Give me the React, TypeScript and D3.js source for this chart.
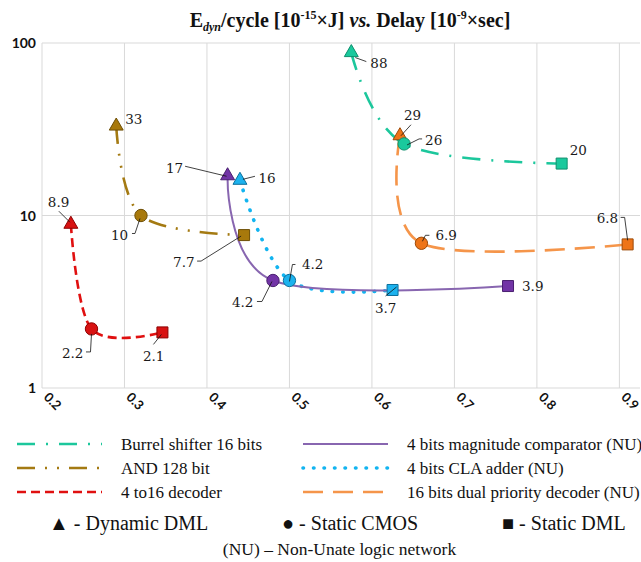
import React from "react";
import * as d3 from "d3";

const width = 641;
const height = 562;

// axes
const xTicks = [0.2, 0.3, 0.4, 0.5, 0.6, 0.7, 0.8, 0.9];
const yTicks = [1, 10, 100];

// series data: delay [ns] and energy/cycle [fJ], points = Dynamic DML, Static CMOS, Static DML
const burrelDelay = [0.575, 0.639, 0.83];
const burrelEnergy = [88, 26, 20];
const andDelay = [0.29, 0.32, 0.445];
const andEnergy = [33, 10, 7.7];
const decoderDelay = [0.235, 0.26, 0.346];
const decoderEnergy = [8.9, 2.2, 2.1];
const comparatorDelay = [0.425, 0.48, 0.765];
const comparatorEnergy = [17, 4.2, 3.9];
const claDelay = [0.44, 0.5, 0.625];
const claEnergy = [16, 4.2, 3.7];
const priorityDelay = [0.634, 0.66, 0.91];
const priorityEnergy = [29, 6.9, 6.8];

const seriesNames = [
  "Burrel shifter 16 bits",
  "AND 128 bit",
  "4 to16 decoder",
  "4 bits magnitude comparator (NU)",
  "4 bits CLA adder (NU)",
  "16 bits dual priority decoder (NU)",
];

const markerNames = ["Dynamic DML", "Static CMOS", "Static DML"];

// styles per series
const styles = [
  { line: "#1cc79c", fill: "#1ac99d", edge: "#0f8f6d", dash: "18 11 2 11", w: 2.6, cap: "butt" },
  { line: "#a47a12", fill: "#a8790c", edge: "#6e4f05", dash: "18 10 2 10 2 10", w: 2.6, cap: "butt" },
  { line: "#e01010", fill: "#d81212", edge: "#8c0000", dash: "9 5", w: 2.6, cap: "butt" },
  { line: "#8866b0", fill: "#7234a6", edge: "#4a1f70", dash: null, w: 2, cap: "butt" },
  { line: "#12b4f0", fill: "#1cb2ee", edge: "#0c6f9c", dash: "0.5 10", w: 3.6, cap: "round" },
  { line: "#f5954a", fill: "#ee7418", edge: "#9c4a08", dash: "20 10", w: 2.6, cap: "butt" },
];

// data label offsets [dx, dy, leader polyline] relative to the marker
const labelLayout = [
  [[19, 15, [[4, 5], [15, 9]]], [21, 1, [[3, 1], [15, -5], [18, -5]]], [8, -9, null]],
  [[9, -2, null], [-30, 24.5, [[-9, 18], [-6, 18], [-1, 3]]], [-71, 31.5, [[-47, 26], [-43, 26], [-3, 1]]]],
  [[-23, -17.5, [[-12, -13], [-1, -2]]], [-29.5, 29, [[-5.5, 23], [-1, 23], [0, 5]]], [-19.5, 28.6, [[-9, 12], [-1, 2]]]],
  [[-61.6, -3, [[-42.5, -9.5], [-1, 0.5]]], [-41, 27, [[-16, 21], [-11, 21], [-1, 1]]], [14, 5, null]],
  [[18.5, 3, [[3, -1], [15, -4]]], [12.5, -11.5, [[0, 1], [3, -16], [6, -16]]], [-17.6, 23.5, [[-7, 6], [4, -3]]]],
  [[4, -16, [[1, 0], [11, -11]]], [14, -3, [[1, -2], [4, -8], [8, -8]]], [-31, -21, [[-7, -27], [-3, -27], [0, -4]]]],
];

const series = [
  { delay: burrelDelay, energy: burrelEnergy },
  { delay: andDelay, energy: andEnergy },
  { delay: decoderDelay, energy: decoderEnergy },
  { delay: comparatorDelay, energy: comparatorEnergy },
  { delay: claDelay, energy: claEnergy },
  { delay: priorityDelay, energy: priorityEnergy },
];

const x = d3.scaleLinear().domain([0.2, 0.925]).range([42, 640]);
const y = d3.scaleLog().domain([1, 100]).range([388, 43]);

const line = d3.line().curve(d3.curveCardinal.tension(0));

const shapes = [d3.symbolTriangle, d3.symbolCircle, d3.symbolSquare];
const shapeSizes = [84, 120, 121];

// draw order: orange under teal
const drawOrder = [5, 2, 1, 4, 3, 0];

export default function App() {
  const pts = series.map(s => s.delay.map((d, i) => [x(d), y(s.energy[i])]));
  const plotRight = x.range()[1];

  return (
    <svg width={width} height={height} style={{ position: "absolute", left: 0, top: 0, background: "#fff" }}>
      {/* title */}
      <text x={350} y={27} textAnchor="middle" fontFamily="Liberation Serif" fontWeight="bold" fontSize={20} fill="#111">
        E<tspan fontStyle="italic" fontSize={12} dy={4}>dyn</tspan>
        <tspan dy={-4}>/cycle [10</tspan>
        <tspan fontSize={12} dy={-8}>-15</tspan>
        <tspan dy={8}>×J] </tspan>
        <tspan fontStyle="italic">vs.</tspan>
        <tspan> Delay [10</tspan>
        <tspan fontSize={12} dy={-8}>-9</tspan>
        <tspan dy={8}>×sec]</tspan>
      </text>

      {/* grid */}
      {xTicks.map(t => (
        <line key={"gx" + t} x1={x(t)} x2={x(t)} y1={y(100)} y2={y(1)} stroke="#d9d9d9" />
      ))}
      {yTicks.map(t => (
        <line key={"gy" + t} x1={x(0.2)} x2={plotRight} y1={y(t)} y2={y(t)} stroke="#d9d9d9" />
      ))}

      {/* tick labels */}
      {yTicks.map(t => (
        <text key={"ly" + t} x={36} y={y(t) + 5} textAnchor="end" fontFamily="Lato" fontWeight="bold" fontSize={14} fill="#111">
          {t}
        </text>
      ))}
      {xTicks.map(t => (
        <text key={"lx" + t} transform={`translate(${x(t) + 1},398) rotate(45)`} fontFamily="Lato" fontWeight="bold" fontSize={13} fill="#111">
          {t.toFixed(1)}
        </text>
      ))}

      {/* lines */}
      {drawOrder.map(si => {
        const st = styles[si];
        return (
          <path key={"ln" + si} d={line(pts[si])} fill="none" stroke={st.line} strokeWidth={st.w}
            strokeDasharray={st.dash || undefined} strokeLinecap={st.cap} />
        );
      })}

      {/* markers */}
      {drawOrder.map(si => {
        const st = styles[si];
        return pts[si].map((p, i) => (
          <path key={"mk" + si + i} transform={`translate(${p[0]},${p[1]})`}
            d={d3.symbol(shapes[i], shapeSizes[i])()} fill={st.fill} stroke={st.edge} strokeWidth={1} />
        ));
      })}

      {/* data labels */}
      {series.map((s, si) =>
        pts[si].map((p, i) => {
          const [dx, dy, leader] = labelLayout[si][i];
          return (
            <g key={"lb" + si + i}>
              {leader && (
                <polyline points={leader.map(q => `${p[0] + q[0]},${p[1] + q[1]}`).join(" ")}
                  fill="none" stroke="#111" strokeWidth={0.8} />
              )}
              <text x={p[0] + dx} y={p[1] + dy} fontFamily="DejaVu Serif" fontSize={13.5} fill="#1a1a1a">
                {String(s.energy[i])}
              </text>
            </g>
          );
        })
      )}

      {/* legend */}
      {seriesNames.map((name, si) => {
        const col = si < 3 ? 0 : 1;
        const row = si % 3;
        const lx = col === 0 ? 17 : 303;
        const tx = col === 0 ? 121 : 407;
        const ly = 444 + row * 24;
        const st = styles[si];
        return (
          <g key={"lg" + si}>
            <line x1={lx} x2={lx + 85} y1={ly} y2={ly} stroke={st.line} strokeWidth={st.w}
              strokeDasharray={st.dash || undefined} strokeLinecap={st.cap} />
            <text x={tx} y={ly + 5.5} fontFamily="Liberation Serif" fontSize={17} fill="#111">{name}</text>
          </g>
        );
      })}

      {/* marker key */}
      {["▲", "●", "■"].map((sym, i) => (
        <text key={"mkk" + i} x={[49, 282, 502][i]} y={530} fontFamily="Liberation Serif" fontSize={20} fill="#111">
          {sym} - {markerNames[i]}
        </text>
      ))}
      <text x={339.5} y={555} textAnchor="middle" fontFamily="Liberation Serif" fontSize={17.5} fill="#111">
        (NU) – Non-Unate logic network
      </text>
    </svg>
  );
}
